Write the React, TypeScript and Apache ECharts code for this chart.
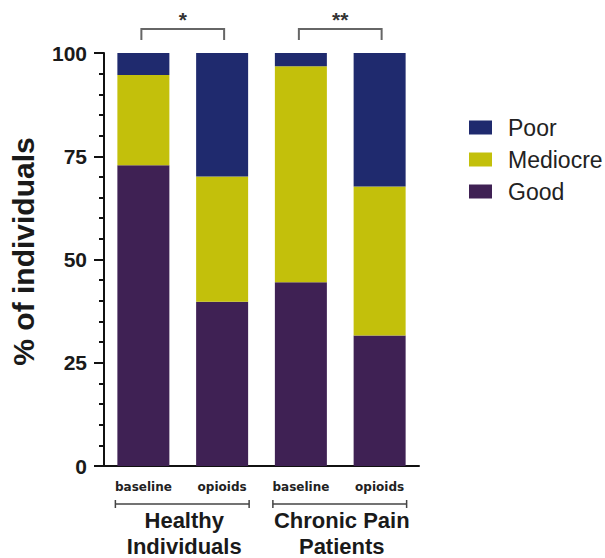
import React, { useEffect, useRef } from "react";
import * as echarts from "echarts";

const categories = ["baseline", "opioids", "baseline", "opioids"];
const goodValues = [72.8, 39.8, 44.5, 31.6];
const mediocreValues = [21.9, 30.3, 52.3, 36.1];
const poorValues = [5.3, 29.9, 3.2, 32.3];
const yTicks = [0, 25, 50, 75, 100];
const groups = [
  { lines: ["Healthy", "Individuals"], from: 0, to: 1, sig: "*" },
  { lines: ["Chronic Pain", "Patients"], from: 2, to: 3, sig: "**" },
];

const COLORS = { poor: "#1f2a6e", mediocre: "#c3c00b", good: "#3f2154" };
const BAR_W = 52;

export default function App() {
  const ref = useRef<HTMLDivElement>(null);
  useEffect(() => {
    if (!ref.current) return;
    const chart = echarts.init(ref.current, null, { renderer: "svg" });
    const gridTop = 53;
    const gridBottom = 466;
    chart.setOption({
      animation: false,
      grid: { left: 101, top: gridTop, width: 318, height: gridBottom - gridTop },
      legend: {
        orient: "vertical",
        left: 469,
        top: 116,
        padding: 0,
        itemWidth: 23,
        itemHeight: 14,
        itemGap: 9,
        icon: "rect",
        data: ["Poor", "Mediocre", "Good"],
        textStyle: {
          fontFamily: "Liberation Sans, Arial, sans-serif",
          fontSize: 23,
          lineHeight: 22,
          color: "#222",
          padding: [0, 0, 0, 11],
        },
      },
      xAxis: {
        type: "category",
        data: categories,
        axisLine: { show: true, lineStyle: { color: "#111", width: 2 } },
        axisTick: { show: false },
        axisLabel: {
          margin: 15,
          fontFamily: "DejaVu Sans, sans-serif",
          fontWeight: "bold",
          fontSize: 12,
          color: "#222",
        },
      },
      yAxis: {
        type: "value",
        min: yTicks[0],
        max: yTicks[yTicks.length - 1],
        interval: 25,
        name: "% of individuals",
        nameLocation: "middle",
        nameRotate: 90,
        nameGap: 66,
        nameTextStyle: {
          fontFamily: "Liberation Sans, Arial, sans-serif",
          fontWeight: "bold",
          fontSize: 30,
          color: "#1a1a1a",
          padding: [0, 0, 0, 16],
        },
        splitLine: { show: false },
        axisLine: { show: true, lineStyle: { color: "#111", width: 2 } },
        axisTick: { show: true, length: 10, lineStyle: { color: "#111", width: 2 } },
        minorTick: { show: true, splitNumber: 5, length: 5, lineStyle: { color: "#111", width: 2 } },
        axisLabel: {
          margin: 17,
          fontFamily: "Liberation Sans, Arial, sans-serif",
          fontWeight: "bold",
          fontSize: 21,
          color: "#1a1a1a",
        },
      },
      series: [
        { name: "Good", type: "bar", stack: "s", barWidth: BAR_W, data: goodValues, itemStyle: { color: COLORS.good } },
        { name: "Mediocre", type: "bar", stack: "s", barWidth: BAR_W, data: mediocreValues, itemStyle: { color: COLORS.mediocre } },
        { name: "Poor", type: "bar", stack: "s", barWidth: BAR_W, data: poorValues, itemStyle: { color: COLORS.poor } },
      ],
    });

    const px = (i: number) => chart.convertToPixel({ xAxisIndex: 0 }, i) as number;
    const elements: any[] = [];
    const bracketColor = "#666";
    groups.forEach((g) => {
      const x1 = px(g.from);
      const x2 = px(g.to);
      // significance bracket
      const yTop = gridTop - 24;
      const yBot = gridTop - 13;
      elements.push({
        type: "polyline",
        shape: { points: [[x1 - 2, yBot], [x1 - 2, yTop], [x2 + 2, yTop], [x2 + 2, yBot]] },
        style: { stroke: bracketColor, lineWidth: 2, fill: null },
      });
      elements.push({
        type: "text",
        x: (x1 + x2) / 2,
        y: yTop - 10,
        style: {
          text: g.sig,
          fontFamily: "Liberation Sans, Arial, sans-serif",
          fontWeight: "bold",
          fontSize: 21,
          fill: "#333",
          align: "center",
          verticalAlign: "middle",
        },
      });
      // group bracket below axis
      const gx1 = x1 - BAR_W / 2 - 2;
      const gx2 = x2 + BAR_W / 2 + 1;
      const gy = gridBottom + 38;
      elements.push({
        type: "line",
        shape: { x1: gx1, y1: gy, x2: gx2, y2: gy },
        style: { stroke: "#444", lineWidth: 1.5 },
      });
      [gx1, gx2].forEach((gx) =>
        elements.push({
          type: "line",
          shape: { x1: gx, y1: gy - 4, x2: gx, y2: gy + 4 },
          style: { stroke: "#444", lineWidth: 1.5 },
        })
      );
      g.lines.forEach((line, k) => {
        elements.push({
          type: "text",
          x: (gx1 + gx2) / 2 + 2,
          y: gy + 16 + k * 26,
          style: {
            text: line,
            fontFamily: "Liberation Sans, Arial, sans-serif",
            fontWeight: "bold",
            fontSize: 22,
            lineHeight: 18,
            fill: "#1a1a1a",
            align: "center",
            verticalAlign: "middle",
          },
        });
      });
    });
    chart.setOption({ graphic: elements });

    return () => chart.dispose();
  }, []);
  return (
    <div
      ref={ref}
      style={{ position: "fixed", left: 0, top: 0, width: 605, height: 558, background: "#fff" }}
    />
  );
}
